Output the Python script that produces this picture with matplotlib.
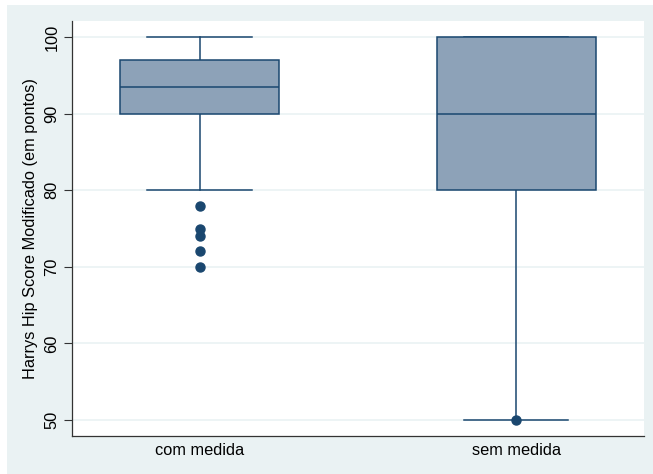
import matplotlib
matplotlib.use("Agg")
import matplotlib.pyplot as plt
from matplotlib.patches import Rectangle

categories = ["com medida", "sem medida"]
whislo = [80, 50]
q1 = [90, 80]
med = [93.5, 90]
q3 = [97, 100]
whishi = [100, 100]
fliers = [[78, 75, 74, 72, 70], [50]]
yticks = [50, 60, 70, 80, 90, 100]

plt.rcParams['font.family'] = ['Liberation Sans', 'DejaVu Sans']

W, H = 653, 474
fig = plt.figure(figsize=(W / 100, H / 100), dpi=100, facecolor='white')
fig.patches.append(Rectangle((7 / W, 0), 1 - 7 / W, 1 - 5 / H, transform=fig.transFigure,
                             facecolor='#EAF2F3', edgecolor='none', zorder=-10))

ax = fig.add_axes([72 / W, 1 - 436 / H, (644 - 72) / W, (436 - 21) / H])
ax.set_facecolor('white')

navy = '#1A476F'
stats = []
for i, c in enumerate(categories):
    stats.append(dict(label=c, whislo=whislo[i], q1=q1[i], med=med[i], q3=q3[i],
                      whishi=whishi[i], fliers=fliers[i]))

ax.bxp(stats, positions=[1, 2], widths=0.502, patch_artist=True, showfliers=True,
       boxprops=dict(facecolor='#8DA2B8', edgecolor=navy, linewidth=1.1, zorder=3),
       medianprops=dict(color=navy, linewidth=1.1, zorder=4),
       whiskerprops=dict(color=navy, linewidth=1.1, zorder=2),
       capprops=dict(color=navy, linewidth=1.1, zorder=2),
       capwidths=0.33,
       flierprops=dict(marker='o', markerfacecolor=navy, markeredgecolor=navy, markersize=6.5, zorder=5))

ax.set_xlim(0.597, 2.404)
ax.set_ylim(47.9, 102.1)
ax.set_yticks(yticks)
ax.set_yticklabels([str(t) for t in yticks], rotation=90, va='center', fontsize=11.8)
ax.tick_params(axis='y', length=6, width=0.8, color='#333333', pad=3)
ax.tick_params(axis='x', length=0, pad=5, labelsize=11.8)
ax.set_xticks([1, 2])
ax.set_xticklabels(categories)
ax.yaxis.grid(True, color='#EAF2F3', linewidth=1.2, zorder=0)
ax.set_axisbelow(True)
for s in ['top', 'right']:
    ax.spines[s].set_visible(False)
for s in ['left', 'bottom']:
    ax.spines[s].set_color('#333333')
    ax.spines[s].set_linewidth(0.9)
ax.set_ylabel("Harrys Hip Score Modificado (em pontos)", fontsize=11.8, labelpad=5)

fig.savefig("out.png", dpi=100, facecolor='white')
